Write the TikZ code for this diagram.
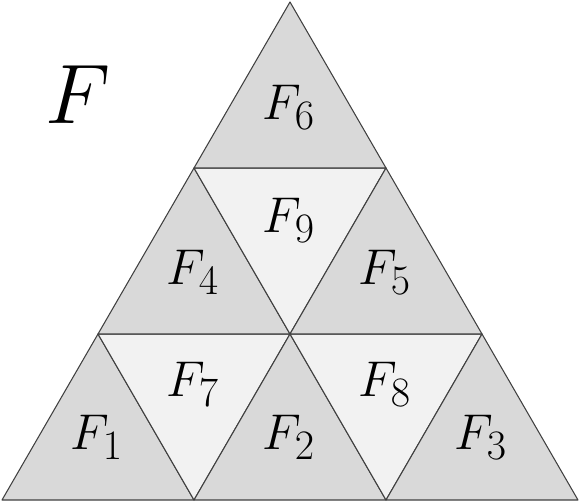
\documentclass[tikz,border=0pt]{standalone}
\usepackage{tikz}
\usepackage{xcolor}
\definecolor{darkfill}{HTML}{D9D9D9}
\definecolor{lightfill}{HTML}{F2F2F2}

\begin{document}
\begin{tikzpicture}[x=0.02cm, y=-0.02cm, dark/.style={fill=darkfill, draw=black!75, line width=0.6pt, line join=round}, light/.style={fill=lightfill, draw=black!75, line width=0.6pt, line join=round}, lab/.style={font=\Huge, inner sep=0pt, scale=1.15, transform shape}]
\useasboundingbox (0,0) rectangle (582,504);
% corner points
\coordinate (a1) at (2,500); \coordinate (a2) at (194,500); \coordinate (a3) at (386,500); \coordinate (a4) at (578,500);
\coordinate (b1) at (98,334); \coordinate (b2) at (290,334); \coordinate (b3) at (482,334);
\coordinate (c1) at (194,168); \coordinate (c2) at (386,168);
\coordinate (top) at (290,2);
% pieces
\draw[dark] (a1)--(a2)--(b1)--cycle;
\draw[light] (b1)--(b2)--(a2)--cycle;
\draw[dark] (a2)--(a3)--(b2)--cycle;
\draw[light] (b2)--(b3)--(a3)--cycle;
\draw[dark] (a3)--(a4)--(b3)--cycle;
\draw[dark] (b1)--(b2)--(c1)--cycle;
\draw[light] (c1)--(c2)--(b2)--cycle;
\draw[dark] (b2)--(b3)--(c2)--cycle;
\draw[dark] (c1)--(c2)--(top)--cycle;
% labels
\node[lab] (f1) at (97,437) {$F_1$};
\node[lab] (f7) at (193,384) {$F_7$};
\node[lab] (f2) at (289,437) {$F_2$};
\node[lab] (f8) at (385,384) {$F_8$};
\node[lab] (f3) at (481,437) {$F_3$};
\node[lab] (f4) at (193,272) {$F_4$};
\node[lab] (f9) at (289,220) {$F_9$};
\node[lab] (f5) at (385,272) {$F_5$};
\node[lab] (f6) at (289,107) {$F_6$};
\node[lab, scale=1.68] (whole) at (78,95) {$F$};
\end{tikzpicture}
\end{document}
